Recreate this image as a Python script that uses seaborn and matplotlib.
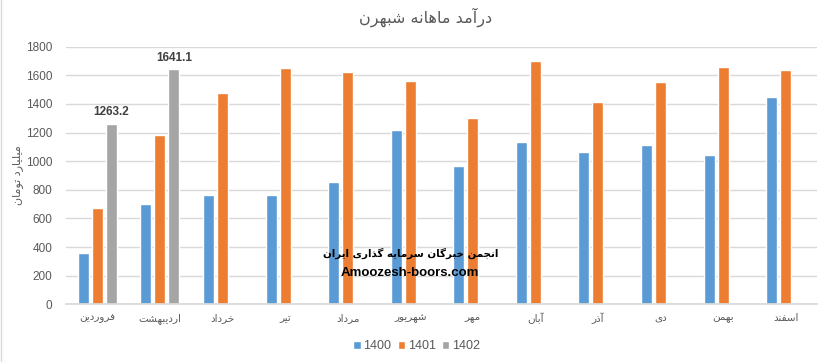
import matplotlib
matplotlib.use("Agg")
import matplotlib.pyplot as plt
import seaborn as sns
import pandas as pd
import numpy as np
from matplotlib.lines import Line2D

months = ["فروردین", "اردیبهشت", "خرداد", "تیر", "مرداد", "شهریور",
          "مهر", "آبان", "آذر", "دی", "بهمن", "اسفند"]
v1400 = [359, 701, 764, 764, 855, 1218, 966, 1134, 1064, 1113, 1043, 1449]
v1401 = [673, 1183, 1476, 1653, 1623, 1560, 1302, 1702, 1414, 1553, 1658, 1637]
v1402 = [1263.2, 1641.1]
years = ["1400", "1401", "1402"]
title = "درآمد ماهانه شبهرن"
ylabel = "میلیارد تومان"
wm1 = "انجمن خبرگان سرمایه گذاری ایران"
wm2 = "Amoozesh-boors.com"

# minimal Arabic/Persian shaping: (isolated, final, initial, medial)
FORMS = {
    'ا': ('\uFE8D', '\uFE8E', None, None),
    'آ': ('\uFE81', '\uFE82', None, None),
    'ب': ('\uFE8F', '\uFE90', '\uFE91', '\uFE92'),
    'ت': ('\uFE95', '\uFE96', '\uFE97', '\uFE98'),
    'ج': ('\uFE9D', '\uFE9E', '\uFE9F', '\uFEA0'),
    'خ': ('\uFEA5', '\uFEA6', '\uFEA7', '\uFEA8'),
    'د': ('\uFEA9', '\uFEAA', None, None),
    'ذ': ('\uFEAB', '\uFEAC', None, None),
    'ر': ('\uFEAD', '\uFEAE', None, None),
    'ز': ('\uFEAF', '\uFEB0', None, None),
    'س': ('\uFEB1', '\uFEB2', '\uFEB3', '\uFEB4'),
    'ش': ('\uFEB5', '\uFEB6', '\uFEB7', '\uFEB8'),
    'ف': ('\uFED1', '\uFED2', '\uFED3', '\uFED4'),
    'ل': ('\uFEDD', '\uFEDE', '\uFEDF', '\uFEE0'),
    'م': ('\uFEE1', '\uFEE2', '\uFEE3', '\uFEE4'),
    'ن': ('\uFEE5', '\uFEE6', '\uFEE7', '\uFEE8'),
    'ه': ('\uFEE9', '\uFEEA', '\uFEEB', '\uFEEC'),
    'و': ('\uFEED', '\uFEEE', None, None),
    'ی': ('\uFBFC', '\uFBFD', '\uFBFE', '\uFBFF'),
    'گ': ('\uFB92', '\uFB93', '\uFB94', '\uFB95'),
}


def shape(text):
    out = []
    for i, c in enumerate(text):
        if c not in FORMS:
            out.append(c)
            continue
        prev = text[i - 1] if i > 0 else None
        nxt = text[i + 1] if i + 1 < len(text) else None
        jp = prev in FORMS and FORMS[prev][2] is not None
        jn = nxt in FORMS and FORMS[c][2] is not None
        iso, fin, ini, med = FORMS[c]
        if jp and jn:
            out.append(med)
        elif jp:
            out.append(fin)
        elif jn:
            out.append(ini)
        else:
            out.append(iso)
    return "".join(reversed(out))


rows = []
for m, a, b in zip(months, v1400, v1401):
    rows.append((m, "1400", a))
    rows.append((m, "1401", b))
for m, c in zip(months, v1402):
    rows.append((m, "1402", c))
df = pd.DataFrame(rows, columns=["month", "year", "value"])
df["month"] = pd.Categorical(df["month"], categories=months, ordered=True)

sns.set_theme(style="white")
plt.rcParams["font.family"] = ["DejaVu Sans"]

fig = plt.figure(figsize=(8.29, 3.62), dpi=100)
ax = fig.add_axes([0.0796, 0.1594, 0.9059, 0.7116])

palette = {"1400": "#5B9BD5", "1401": "#ED7D31", "1402": "#A5A5A5"}
sns.barplot(data=df, x="month", y="value", hue="year", hue_order=years,
            order=months, palette=palette, width=0.67, gap=0.21,
            saturation=1, ax=ax, legend=True, errorbar=None)

ax.set_ylim(0, 1800)
ax.set_xlim(-0.5, 11.5)
ax.set_yticks(np.arange(0, 1801, 200))
ax.yaxis.grid(True, color="#D9D9D9", linewidth=1)
ax.set_axisbelow(True)
for s in ["top", "right", "left"]:
    ax.spines[s].set_visible(False)
ax.spines["bottom"].set_color("#D9D9D9")
ax.tick_params(axis="both", length=0, colors="#595959")
ax.tick_params(axis="y", labelsize=8.5, pad=10)
ax.set_xticks(range(len(months)))
ax.set_xticklabels([shape(m) for m in months], fontsize=7.5, color="#595959")
ax.tick_params(axis="x", pad=6)
for lab in ax.get_yticklabels():
    lab.set_fontfamily("Liberation Sans")
ax.set_xlabel("")
ax.set_ylabel(shape(ylabel), fontsize=8, color="#595959", labelpad=2)

gray = ax.containers[2]
ax.bar_label(gray, fmt="%.1f", padding=4, fontsize=8.5, fontweight="bold",
             color="#404040", family="Liberation Sans")

fig.text(0.513, 0.952, shape(title), ha="center", va="center",
         fontsize=11.5, color="#595959")

fig.text(0.495, 0.300, shape(wm1), ha="center", va="center",
         fontsize=7.4, fontweight="bold", color="black")
fig.text(0.495, 0.245, wm2, ha="center", va="center",
         fontsize=9.5, fontweight="bold", color="black",
         family="Liberation Sans")

leg = ax.legend(loc="center", bbox_to_anchor=(0.467, -0.163), ncol=3,
                frameon=False, fontsize=9, handlelength=0.6, handleheight=0.6,
                handletextpad=0.2, columnspacing=0.5)
for t in leg.get_texts():
    t.set_color("#595959")
    t.set_fontfamily("Liberation Sans")

fig.add_artist(Line2D([0.001, 0.001], [0, 1], transform=fig.transFigure,
                      color="#D9D9D9", linewidth=1))

fig.savefig("out.png", dpi=100)
